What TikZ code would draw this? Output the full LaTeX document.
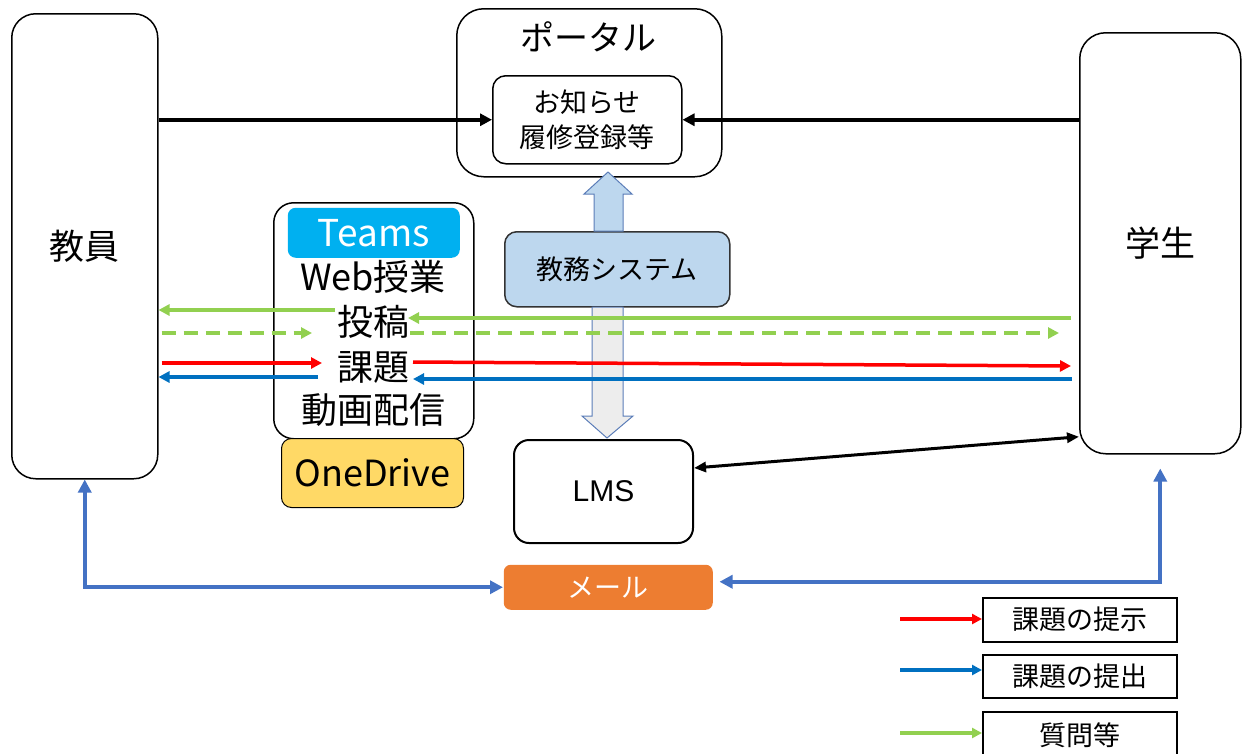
\documentclass[tikz,border=0pt]{standalone}
\usepackage{fontspec}
\setmainfont{Noto Sans CJK JP}
\newfontfamily\latinfont{Liberation Sans}
\usetikzlibrary{arrows.meta,calc}
\definecolor{teamsblue}{HTML}{00B0F0}
\definecolor{onedrive}{HTML}{FFD966}
\definecolor{kyomufill}{HTML}{BDD7EE}
\definecolor{mailfill}{HTML}{ED7D31}
\definecolor{mailblue}{HTML}{4472C4}
\definecolor{subblue}{HTML}{0070C0}
\definecolor{qgreen}{HTML}{92D050}
\definecolor{pred}{HTML}{FF0000}
\definecolor{blockedge}{HTML}{5B7DB8}
\definecolor{grayfill}{HTML}{EDEDED}
\definecolor{darkedge}{HTML}{333333}
\newcommand\myfs[2]{\fontsize{#1}{#2}\selectfont}
\begin{document}
\begin{tikzpicture}[x=1pt,y=-1pt,
  box/.style={draw=black, line width=1.5pt, inner sep=0pt, anchor=north west, align=center},
  txt/.style={inner sep=0pt, align=center},
  blkarrow/.style={line width=3.5pt, -{Triangle[length=12pt,width=12pt]}},
  colarrow/.style={line width=3.5pt, -{Triangle[length=11pt,width=11pt]}},
  legarrow/.style={line width=3.5pt, -{Triangle[length=10pt,width=10pt]}},
  mailarrow/.style={draw=mailblue, line width=4pt, {Triangle[length=13pt,width=13pt]}-{Triangle[length=13pt,width=13pt]}},
  lmsarrow/.style={line width=3pt, {Triangle[length=12pt,width=10pt]}-{Triangle[length=12pt,width=10pt]}},
  blockarrow/.style={draw=blockedge, line width=1pt, line join=miter},
  dashgreen/.style={dash pattern=on 14pt off 8pt}
]
\useasboundingbox (0,0) rectangle (1245,753);

% main boxes
\node[box, rounded corners=24pt, minimum width=146pt, minimum height=465pt, font=\myfs{35}{42}] (kyoin) at (11,13) {教員};
\node[box, rounded corners=26pt, minimum width=161pt, minimum height=421pt, font=\myfs{35}{42}] (gakusei) at (1079,32) {学生};

% portal
\node[box, rounded corners=27pt, minimum width=265pt, minimum height=168pt] (portal) at (456,8) {};
\node[txt, font=\myfs{34}{40}] (portaltitle) at (588.5,37) {ポータル};
\node[box, rounded corners=13pt, minimum width=189pt, minimum height=88pt, font=\myfs{27}{35}] (inner) at (492,75) {お知らせ\\履修登録等};

% Teams group
\node[box, rounded corners=20pt, minimum width=200pt, minimum height=236pt] (teams) at (273,202) {};
\node[box, draw=none, fill=teamsblue, rounded corners=8pt, minimum width=172pt, minimum height=50pt, text=white, font=\myfs{37}{42}] (teamsbar) at (287,207) {Teams};
\node[txt, font=\myfs{36}{42}] (web) at (373,277) {Web授業};
\node[txt, font=\myfs{36}{42}] (toko) at (373,322) {投稿};
\node[txt, font=\myfs{36}{42}] (kadai) at (373,367) {課題};
\node[txt, font=\myfs{36}{42}] (doga) at (373,410) {動画配信};
\node[box, line width=1pt, fill=onedrive, rounded corners=10pt, minimum width=182pt, minimum height=69pt, font=\myfs{36}{42}] (onedrive) at (281,438) {OneDrive};

% kyomu system, LMS, mail
\node[box, draw=darkedge, fill=kyomufill, rounded corners=12pt, minimum width=225pt, minimum height=75pt, font=\myfs{27}{32}] (kyomu) at (504,231) {教務システム};
\node[box, line width=2pt, rounded corners=15pt, minimum width=179pt, minimum height=103pt, font=\latinfont\myfs{30}{34}] (lms) at (513,439) {LMS};
\node[box, draw=none, fill=mailfill, rounded corners=7pt, minimum width=209pt, minimum height=45pt, text=white, font=\myfs{27}{32}] (mail) at (503,564) {メール};

% block arrows
\draw[blockarrow, fill=kyomufill] (594,231) -- (594,194) -- (584,194) -- (608,172) -- (632,194) -- (623,194) -- (623,231) -- cycle;
\draw[blockarrow, fill=grayfill] (592,307) -- (592,416) -- (582,416) -- (607,438) -- (633,416) -- (623,416) -- (623,307) -- cycle;

% portal arrows
\draw[blkarrow] (kyoin.east |- inner.west) -- (inner.west);
\draw[blkarrow] (gakusei.west |- inner.east) -- (inner.east);

% middle arrows
\coordinate (g1s) at (335,310);
\draw[colarrow, draw=qgreen] (g1s) -- (kyoin.east |- g1s);
\coordinate (g2s) at (1071,318);
\coordinate (g2e) at (408,318);
\draw[colarrow, draw=qgreen] (g2s) -- (g2e);
\coordinate (d1e) at (312,333);
\draw[colarrow, draw=qgreen, dashgreen] (kyoin.east |- d1e) ++(3,0) -- (d1e);
\coordinate (d2s) at (410,333);
\coordinate (d2e) at (1059,333);
\draw[colarrow, draw=qgreen, dashgreen] (d2s) -- (d2e);
\coordinate (r1e) at (322,363);
\draw[colarrow, draw=pred] (kyoin.east |- r1e) ++(3,0) -- (r1e);
\coordinate (r2s) at (413,362);
\coordinate (r2e) at (1071,366);
\draw[colarrow, draw=pred] (r2s) -- (r2e);
\coordinate (b1s) at (318,377);
\draw[colarrow, draw=subblue] (b1s) -- (kyoin.east |- b1s);
\coordinate (b2s) at (1072,379);
\coordinate (b2e) at (413,379);
\draw[colarrow, draw=subblue] (b2s) -- (b2e);

% LMS <-> student
\draw[lmsarrow] ([yshift=23.5pt]lms.east) -- ([yshift=-193.5pt]gakusei.west);

% mail paths
\draw[mailarrow] (kyoin.south) |- (mail.west);
\coordinate (mr) at ([xshift=6pt,yshift=5.5pt]mail.east);
\coordinate (gs) at ([yshift=-14pt]gakusei.south);
\draw[mailarrow] (mr) -| (gs);

% legend
\node[box, minimum width=194pt, minimum height=44pt, font=\myfs{27}{32}] (leg1) at (982,597) {課題の提示};
\node[box, minimum width=194pt, minimum height=43pt, font=\myfs{27}{32}] (leg2) at (982,654) {課題の提出};
\node[box, minimum width=194pt, minimum height=47pt, font=\myfs{27}{32}] (leg3) at (982,711) {質問等};
\coordinate (l1) at (900,619);
\draw[legarrow, draw=pred] (l1) -- (leg1.west |- l1);
\coordinate (l2) at (900,670);
\draw[legarrow, draw=subblue] (l2) -- (leg2.west |- l2);
\coordinate (l3) at (900,733);
\draw[legarrow, draw=qgreen] (l3) -- (leg3.west |- l3);
\end{tikzpicture}
\end{document}
